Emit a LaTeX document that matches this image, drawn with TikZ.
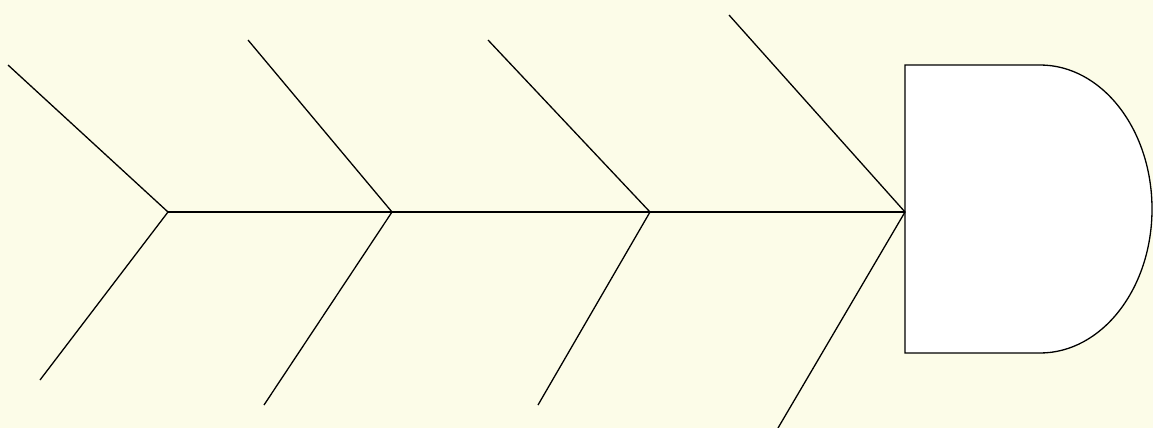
\documentclass[tikz,border=0pt]{standalone}
\definecolor{bgyellow}{RGB}{252,252,232}
\begin{document}
\begin{tikzpicture}[x=1pt,y=-1pt,bone/.style={draw=black,line width=1.3pt},head/.style={draw=black,fill=white,line width=1.3pt}]
\fill[bgyellow] (0,0) rectangle (1153,428);
\useasboundingbox (0,0) rectangle (1153,428);
% junctions
\coordinate (j1) at (168,212);
\coordinate (j2) at (392,212);
\coordinate (j3) at (650,212);
\coordinate (j4) at (905,212);
% bone ends
\coordinate (u1) at (8,65);
\coordinate (l1) at (40,380);
\coordinate (u2) at (248,40);
\coordinate (l2) at (264,405);
\coordinate (u3) at (488,40);
\coordinate (l3) at (538,405);
\coordinate (u4) at (729,15);
\coordinate (l4) at (778,428);
% head
\draw[head] (905,65) -- (1040,65) arc[start angle=90,end angle=-90,x radius=112,y radius=-144] -- (905,353) -- cycle;
% spine
\draw[bone] (j1) -- (j2) -- (j3) -- (j4);
% bones
\draw[bone] (u1) -- (j1) -- (l1);
\draw[bone] (u2) -- (j2) -- (l2);
\draw[bone] (u3) -- (j3) -- (l3);
\draw[bone] (u4) -- (j4) -- (l4);
\end{tikzpicture}
\end{document}
